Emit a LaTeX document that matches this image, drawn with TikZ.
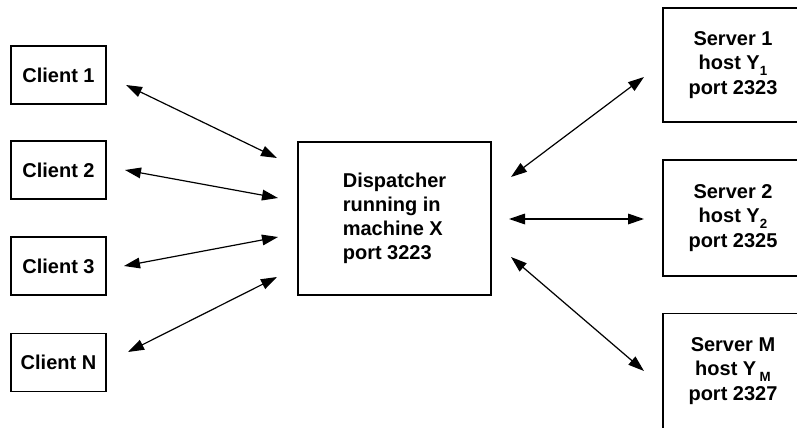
\documentclass[tikz,border=0pt]{standalone}
\usepackage{fontspec}
\setmainfont{Liberation Sans}
\usetikzlibrary{arrows.meta}

\newcommand{\lowsub}[1]{\raisebox{-0.5ex}{\fontsize{10}{10}\selectfont #1}}

\tikzset{every picture/.style={line width=0.75pt}}
\tikzset{
  box/.style={draw, line width=1.1pt, inner sep=0pt, font=\bfseries\fontsize{15}{18}\selectfont},
  link/.style={{Triangle[length=12pt,width=8pt]}-{Triangle[length=12pt,width=8pt]}, line width=0.9pt}
}

\begin{document}
\begin{tikzpicture}[x=0.75pt,y=0.75pt,yscale=-1,xscale=1]
\clip (0,0) rectangle (797,428); %diagram is 797 by 428, servers run off the right edge

%Shape: Rectangle (clients)
\node [box, minimum width=71.25pt, minimum height=43.5pt] (client1) at (58.5,75) {Client 1};
\node [box, minimum width=71.25pt, minimum height=43.5pt] (client2) at (58.5,170) {Client 2};
\node [box, minimum width=71.25pt, minimum height=43.5pt] (client3) at (58.5,266) {Client 3};
\node [box, minimum width=71.25pt, minimum height=43.5pt] (clientN) at (58.5,362.5) {Client N};

%Shape: Rectangle (dispatcher)
\node [box, minimum width=144.75pt, minimum height=114.75pt, align=left] (disp) at (394.5,218.5)
  {Dispatcher\\running in\\machine X\\port 3223};

%Shape: Rectangle (servers)
\node [box, minimum width=105pt, minimum height=85.5pt, align=center, font=\bfseries\fontsize{15}{18.5}\selectfont] (server1) at (733,65)
  {Server 1\\host Y\lowsub{1}\\port 2323};
\node [box, minimum width=105pt, minimum height=87pt, align=center, font=\bfseries\fontsize{15}{18.5}\selectfont] (server2) at (733,218)
  {Server 2\\host Y\lowsub{2}\\port 2325};
\node [box, minimum width=105pt, minimum height=86.25pt, align=center, font=\bfseries\fontsize{15}{18.5}\selectfont] (serverM) at (733,371)
  {Server M\\host Y\,\lowsub{M}\\port 2327};

%Arrow ends
\coordinate (c1a) at (126,85);   \coordinate (d1a) at (277,158);
\coordinate (c2a) at (125,170);  \coordinate (d2a) at (278,198);
\coordinate (c3a) at (124,266);  \coordinate (d3a) at (278,237);
\coordinate (cNa) at (128,352);  \coordinate (dNa) at (277,277);
\coordinate (e1a) at (511,177);  \coordinate (s1a) at (644,77);
\coordinate (e2a) at (509,219);  \coordinate (s2a) at (644,219);
\coordinate (eMa) at (511,257);  \coordinate (sMa) at (644,371);

%Straight Lines
\draw [link] (c1a) -- (d1a);
\draw [link] (c2a) -- (d2a);
\draw [link] (c3a) -- (d3a);
\draw [link] (cNa) -- (dNa);
\draw [link] (e1a) -- (s1a);
\draw [link] (e2a) -- (s2a);
\draw [link] (eMa) -- (sMa);

\end{tikzpicture}
\end{document}
